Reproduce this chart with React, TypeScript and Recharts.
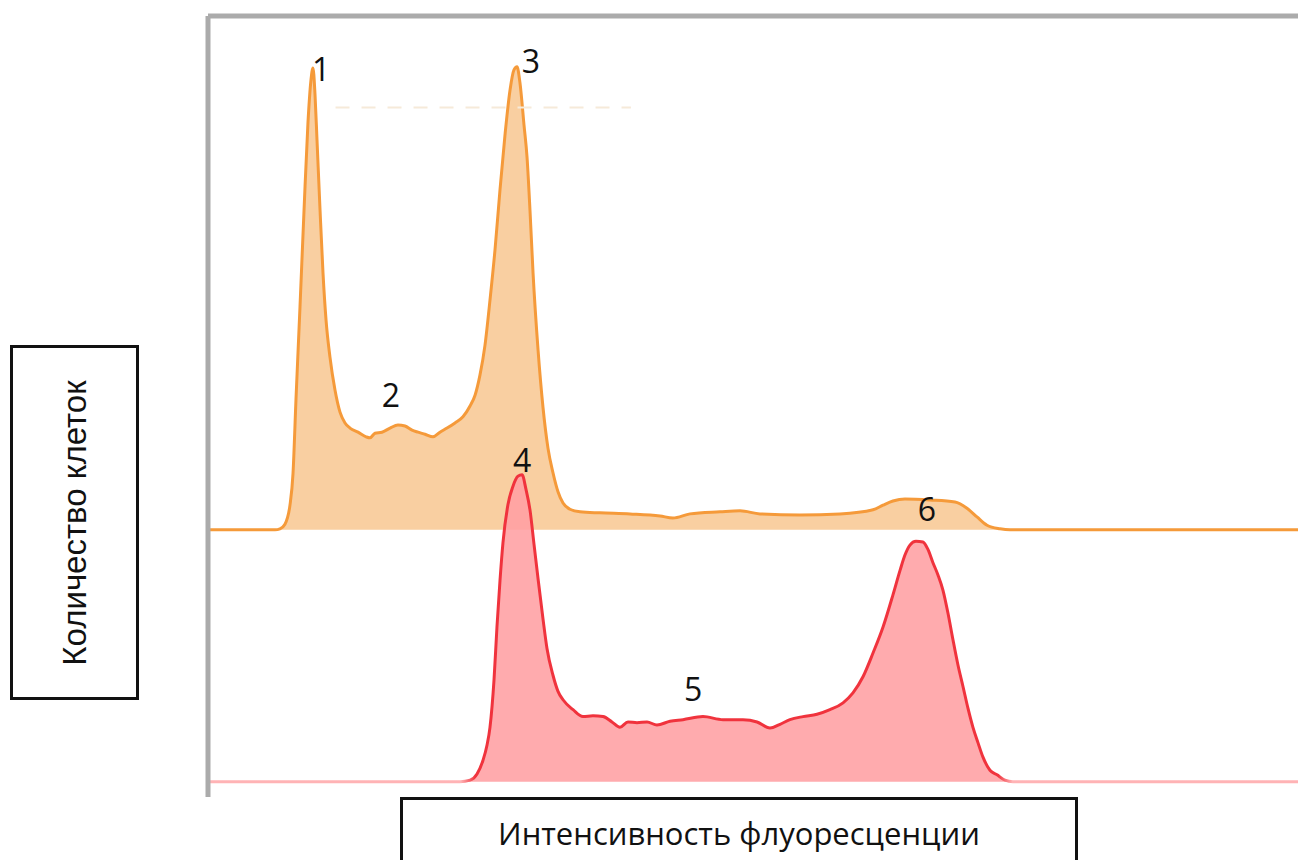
import React from "react";
import { ComposedChart, Area, XAxis, YAxis, ReferenceDot, ReferenceLine } from "recharts";

// Fluorescence channel (0..1000) and cell counts for the upper (orange) histogram
const orangeChannel = [0, 61.5, 66, 70.6, 75.2, 78, 80.7, 84.4, 88.1, 91.7, 94.5, 96.3, 98.2, 100, 102.8, 105.5, 108.3, 111.9, 116.5, 121.1, 125.7, 130.3, 137.6, 145, 148.6, 153.2, 159.6, 167, 174.3, 180.7, 187.2, 192.7, 199.1, 206.4, 212.8, 219.3, 226.6, 233.9, 240.4, 245, 249.5, 254.1, 258.7, 263.3, 267.9, 272.5, 277.1, 280.7, 283.5, 286.2, 289.9, 292.7, 295.4, 298.2, 302.8, 307.3, 311.9, 316.5, 321.1, 325.7, 332.1, 341.3, 359.6, 387.2, 414.7, 426.6, 442.2, 469.7, 488.1, 506.4, 543.1, 579.8, 610.1, 619.3, 628.4, 639.4, 662.4, 685.3, 696.3, 705.5, 714.7, 726.6, 735.8, 1000];
const orangeCount = [0, 0, 0.2, 1.1, 4.8, 11, 25.3, 43.4, 62.2, 79.2, 87.6, 89.9, 84.6, 75.9, 62.2, 50.0, 40.8, 33.6, 27.2, 22.9, 20.8, 19.8, 19.0, 18.1, 17.9, 18.8, 19.0, 19.8, 20.4, 20.2, 19.4, 19.0, 18.6, 18.1, 19.0, 19.8, 20.8, 22.0, 24.1, 26.2, 30.1, 35.9, 44.7, 54.5, 66.2, 76.9, 85.6, 89.5, 90.1, 87.0, 78.8, 72.5, 62.2, 50.0, 35.0, 23.9, 15.9, 11.1, 7.4, 5.2, 4.0, 3.5, 3.3, 3.1, 2.7, 2.3, 3.1, 3.5, 3.7, 3.1, 2.9, 3.1, 3.9, 4.8, 5.6, 6.0, 5.8, 5.4, 4.2, 2.5, 0.9, 0.2, 0, 0];

// Lower (red) histogram
const redChannel = [0, 231.2, 240.4, 246.8, 252.3, 256, 258.7, 262.4, 265.1, 267.9, 270.6, 275.2, 279.8, 284.4, 288.1, 291.7, 295.4, 299.1, 302.8, 307.3, 311, 316.5, 321.1, 325.7, 334.9, 344, 353.2, 362.4, 370.6, 377.9, 385.3, 393.6, 402.8, 411.9, 423.9, 435.8, 454.1, 472.5, 490.8, 503.7, 515.6, 524.8, 533.9, 545.9, 558.7, 570.6, 582.6, 591.7, 600.9, 610.1, 619.3, 628.4, 634.9, 639.4, 644, 649.5, 655.9, 660.6, 665.1, 669.7, 674.3, 678.9, 683.5, 688.1, 692.7, 697.2, 701.8, 706.4, 711, 717.4, 723.9, 731.2, 738.5, 1000];
const redCount = [0, 0, 0.2, 1.0, 2.8, 4.8, 7.1, 13.3, 20.2, 26.3, 31.2, 36.2, 38.6, 39.9, 40.1, 38.2, 35.5, 31.0, 26.5, 21.3, 17.4, 13.9, 11.8, 10.7, 9.4, 8.5, 8.6, 8.5, 7.8, 7.1, 7.8, 7.7, 7.8, 7.4, 7.9, 8.1, 8.5, 8.1, 8.1, 7.8, 7.0, 7.5, 8.1, 8.5, 8.8, 9.4, 10.3, 11.6, 13.7, 16.8, 20.2, 24.4, 27.6, 29.6, 30.9, 31.4, 31.3, 30.3, 28.6, 27.0, 25.0, 22.0, 18.5, 15.2, 12.4, 9.6, 7.1, 5.1, 3.2, 1.5, 0.9, 0.2, 0, 0];

// Peak labels
const peakLabels = ["1", "2", "3", "4", "5", "6"];
const peakChannel = [103.7, 167.9, 296.3, 288.1, 445, 659.6];
const peakCount = [89.5, 26.2, 91.2, 13.4, 12.0, 3.9];
const peakAxis = ["o", "o", "o", "o", "r", "o"];

const xTitle = "Интенсивность флуоресценции";
const yTitle = "Количество клеток";

function buildTable() {
  const map = new Map<number, any>();
  orangeChannel.forEach((c, i) => {
    const row = map.get(c) || { ch: c };
    row.orange = orangeCount[i];
    map.set(c, row);
  });
  redChannel.forEach((c, i) => {
    const row = map.get(c) || { ch: c };
    row.red = redCount[i];
    map.set(c, row);
  });
  return Array.from(map.values()).sort((a, b) => a.ch - b.ch);
}

const data = buildTable();

export default function App() {
  return (
    <div style={{ position: "absolute", left: 0, top: 0, width: 1298, height: 860, background: "#fff", overflow: "hidden" }}>
      <ComposedChart width={1298} height={860} data={data} margin={{ top: 16, right: 0, left: 208, bottom: 63 }}>
        <defs>
          <linearGradient id="redStroke" x1="0" y1="0" x2="1" y2="0">
            <stop offset="0" stopColor="#ffb3b5" />
            <stop offset="0.232" stopColor="#ffb3b5" />
            <stop offset="0.245" stopColor="#f0333d" />
            <stop offset="0.725" stopColor="#f0333d" />
            <stop offset="0.738" stopColor="#ffb3b5" />
            <stop offset="1" stopColor="#ffb3b5" />
          </linearGradient>
        </defs>
        <XAxis dataKey="ch" type="number" domain={[0, 1000]} hide allowDataOverflow />
        <YAxis yAxisId="o" type="number" domain={[-52, 100]} hide allowDataOverflow />
        <YAxis yAxisId="r" type="number" domain={[-2, 100]} hide allowDataOverflow />
        <ReferenceLine yAxisId="o" y={100} stroke="#ababab" strokeWidth={5} />
        <ReferenceLine yAxisId="o" x={0} stroke="#ababab" strokeWidth={5} />
        <ReferenceLine
          yAxisId="o"
          segment={[{ x: 117, y: 82.2 }, { x: 388, y: 82.2 }]}
          stroke="#f6ead9"
          strokeWidth={2}
          strokeDasharray="14 12"
        />
        <Area
          yAxisId="o"
          dataKey="orange"
          type="monotone"
          baseValue={0}
          connectNulls
          stroke="#f59a3a"
          strokeWidth={3}
          fill="#f9cfa1"
          fillOpacity={1}
          isAnimationActive={false}
          dot={false}
          activeDot={false}
        />
        <Area
          yAxisId="r"
          dataKey="red"
          type="monotone"
          baseValue={0}
          connectNulls
          stroke="url(#redStroke)"
          strokeWidth={3}
          fill="#ff9fa3"
          fillOpacity={0.88}
          isAnimationActive={false}
          dot={false}
          activeDot={false}
        />
        {peakLabels.map((t, i) => (
          <ReferenceDot
            key={t}
            yAxisId={peakAxis[i]}
            x={peakChannel[i]}
            y={peakCount[i]}
            r={0}
            fill="none"
            stroke="none"
            label={{
              value: t,
              position: "center",
              fill: "#111",
              fontSize: 32,
              fontFamily: "Open Sans, sans-serif",
            }}
          />
        ))}
      </ComposedChart>
      <div
        style={{
          position: "absolute",
          left: 10,
          top: 345,
          width: 123,
          height: 349,
          border: "3px solid #111",
          background: "#fff",
          boxSizing: "content-box",
        }}
      >
        <div
          style={{
            position: "absolute",
            left: "50%",
            top: "50%",
            transform: "translate(-50%, -50%) rotate(-90deg)",
            whiteSpace: "nowrap",
            fontFamily: "Liberation Sans, Arial, sans-serif",
            fontSize: 33,
            color: "#111",
          }}
        >
          {yTitle}
        </div>
      </div>
      <div
        style={{
          position: "absolute",
          left: 400,
          top: 797,
          width: 672,
          height: 100,
          border: "3px solid #111",
          background: "#fff",
        }}
      >
        <div
          style={{
            position: "absolute",
            left: 0,
            right: 0,
            top: 12,
            textAlign: "center",
            whiteSpace: "nowrap",
            fontFamily: "Open Sans, sans-serif",
            fontSize: 31,
            color: "#111",
          }}
        >
          {xTitle}
        </div>
      </div>
    </div>
  );
}
